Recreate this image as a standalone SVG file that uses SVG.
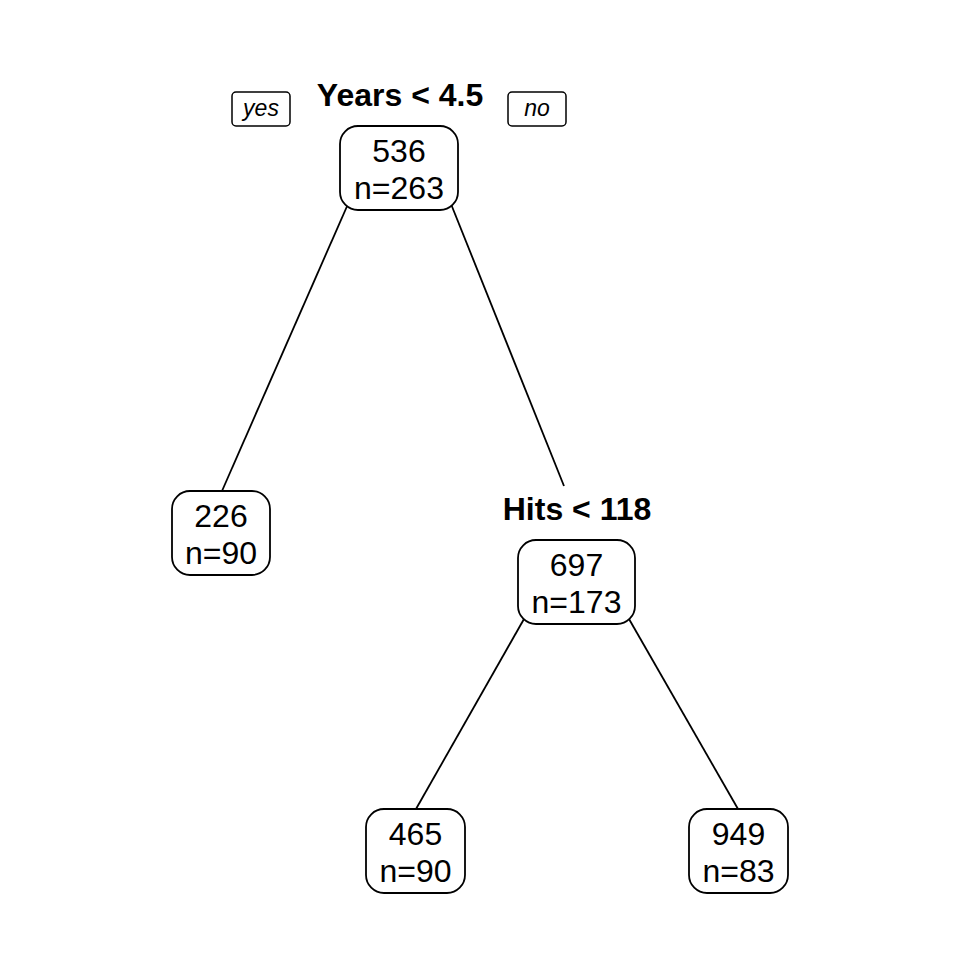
<svg xmlns="http://www.w3.org/2000/svg" width="960" height="960" viewBox="0 0 960 960">
<style>
.box{fill:#fff;stroke:#000;stroke-width:1.8}
.lab{fill:#fff;stroke:#000;stroke-width:1.5}
.t{font-family:"Liberation Sans",Arial,sans-serif;font-size:32px;text-anchor:middle;fill:#000}
.s{font-family:"Liberation Sans",Arial,sans-serif;font-size:32px;font-weight:bold;text-anchor:middle;fill:#000}
.yn{font-family:"Liberation Sans",Arial,sans-serif;font-size:23px;font-style:italic;text-anchor:middle;fill:#000}
.e{stroke:#000;stroke-width:1.8;fill:none}
</style>
<rect width="960" height="960" fill="#fff"/>
<g id="connectors">
<line class="e" x1="348" y1="204" x2="222" y2="491"/>
<line class="e" x1="451" y1="204" x2="564" y2="486"/>
<line class="e" x1="524" y1="619" x2="416" y2="809"/>
<line class="e" x1="629" y1="619" x2="738" y2="809"/>
</g>
<g id="root">
<text class="s" x="400" y="106">Years &lt; 4.5</text>
<rect class="lab" x="232" y="92" width="58" height="34" rx="4"/>
<text class="yn" x="261" y="116">yes</text>
<rect class="lab" x="508" y="92" width="58" height="34" rx="4"/>
<text class="yn" x="537" y="116">no</text>
<rect class="box" x="340" y="126" width="118" height="84" rx="18"/>
<text class="t" x="399" y="162">536</text>
<text class="t" x="399" y="199">n=263</text>
</g>
<g id="n226">
<rect class="box" x="172" y="491" width="98" height="84" rx="18"/>
<text class="t" x="221" y="527">226</text>
<text class="t" x="221" y="564">n=90</text>
</g>
<g id="n697">
<text class="s" x="577" y="520">Hits &lt; 118</text>
<rect class="box" x="518" y="540" width="117" height="84" rx="18"/>
<text class="t" x="576.5" y="576">697</text>
<text class="t" x="576.5" y="613">n=173</text>
</g>
<g id="n465">
<rect class="box" x="366" y="809" width="99" height="84" rx="18"/>
<text class="t" x="415.5" y="845">465</text>
<text class="t" x="415.5" y="882">n=90</text>
</g>
<g id="n949">
<rect class="box" x="689" y="809" width="99" height="84" rx="18"/>
<text class="t" x="738.5" y="845">949</text>
<text class="t" x="738.5" y="882">n=83</text>
</g>
</svg>
